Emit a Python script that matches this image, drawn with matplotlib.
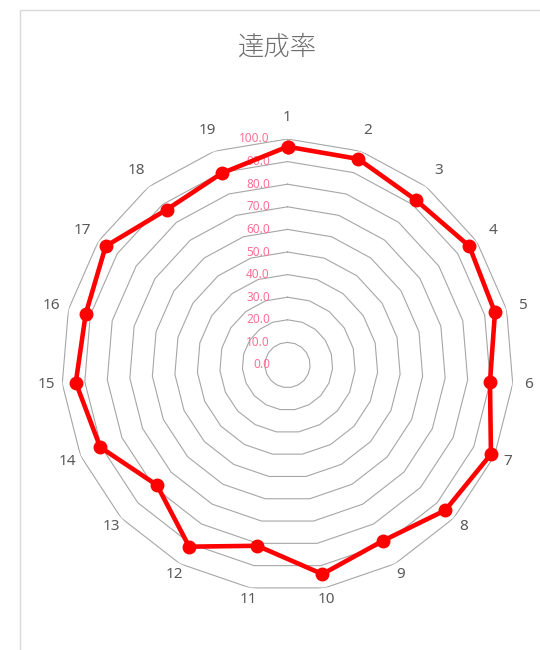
import numpy as np
import matplotlib
matplotlib.use("Agg")
import matplotlib.pyplot as plt
import matplotlib.transforms as mtransforms
from matplotlib.patches import Rectangle

# ── data ─────────────────────────────────────────────
categories = [str(i) for i in range(1, 20)]
values = [96.6, 96.4, 92.5, 96.1, 94.7, 89.9, 98.3, 94.9, 88.5, 93.8,
          81.1, 91.4, 78.5, 90.5, 94.0, 92.1, 96.1, 87.1, 89.7]
rings = [0, 10, 20, 30, 40, 50, 60, 70, 80, 90, 100]
title = "達成率"

plt.rcParams['font.family'] = ['Noto Sans', 'DejaVu Sans']

n = len(categories)
theta = np.arange(n) * 2 * np.pi / n
theta_c = np.append(theta, theta[0])
vals_c = np.append(values, values[0])

fig = plt.figure(figsize=(5.4, 6.5), dpi=100)
fig.patch.set_facecolor('white')

# chart area border (partly outside the picture)
fig.add_artist(Rectangle((20 / 540, -0.1), 1.0, 1.1 - 10 / 650,
                         transform=fig.transFigure, fill=False,
                         edgecolor='#D9D9D9', lw=1.0, clip_on=False))

fig.text(278 / 540, 1 - 47 / 650, title, ha='center', va='center',
         fontsize=19, color='#6E6E6E', fontweight='light',
         family=['Noto Sans CJK JP', 'DejaVu Sans'])

ax = fig.add_axes([61.5 / 540, 59 / 650, 452 / 540, 452 / 650],
                  projection='polar')
ax.set_theta_zero_location('N')
ax.set_theta_direction(-1)
ax.set_ylim(0, 100)
ax.grid(False)
ax.spines['polar'].set_visible(False)
ax.set_xticks([])
ax.set_yticks([])
ax.patch.set_alpha(0)

# polygon gridlines
for v in rings[1:]:
    ax.plot(theta_c, [v] * (n + 1), color='#A6A6A6', lw=0.8, zorder=1)

# value axis labels, left of the top spoke
lab_trans = mtransforms.offset_copy(ax.transData, fig=fig, x=-17.5, y=0,
                                    units='dots')
for v in rings:
    ax.text(0, v, f"{v:.1f}", transform=lab_trans, ha='right', va='center',
            fontsize=8.5, color='#FF7096', zorder=2)

# category labels
for t, c in zip(theta, categories):
    ax.text(t, 107.3 + 2.3 * np.cos(t), c, ha='center', va='center',
            fontsize=11, color='#595959', clip_on=False)

# series
ax.plot(theta_c, vals_c, color='#FF0000', lw=3.3, marker='o',
        markersize=9, zorder=3, clip_on=False)

fig.savefig('out.png', dpi=100)
